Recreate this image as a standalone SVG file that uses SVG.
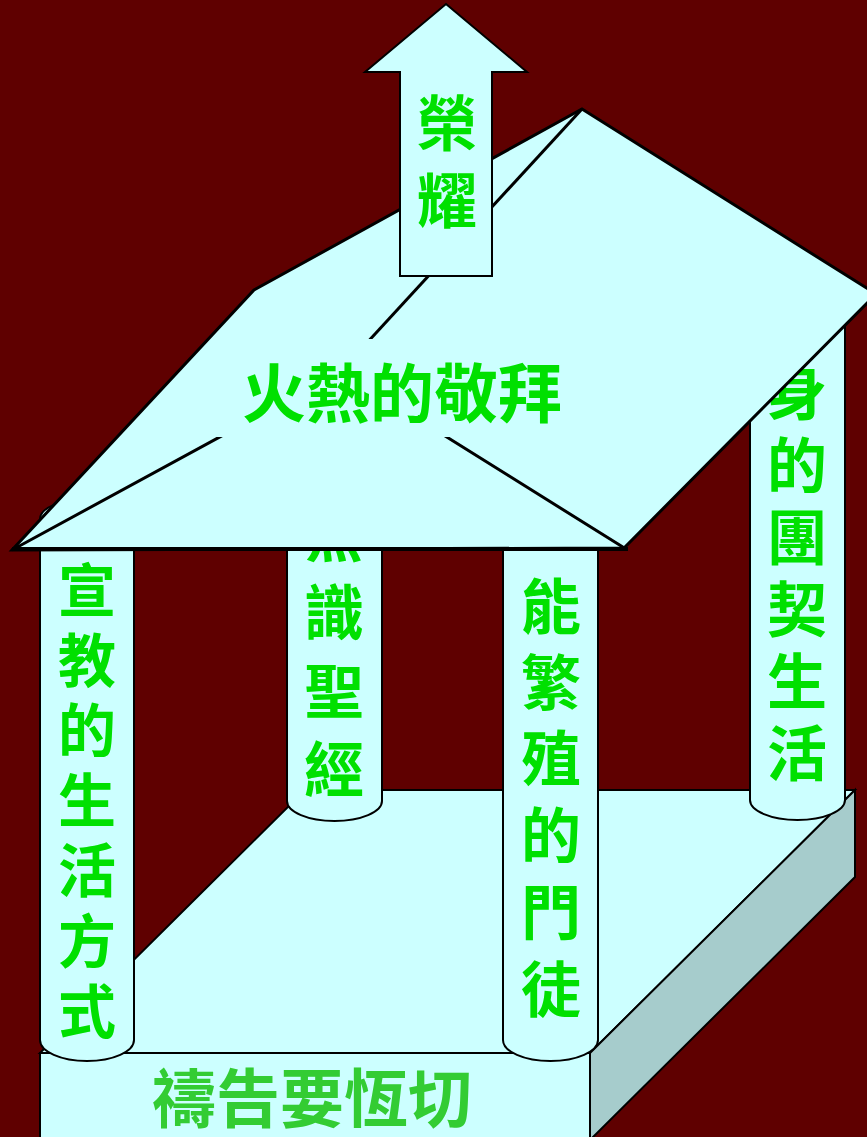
<svg xmlns="http://www.w3.org/2000/svg" width="867" height="1137" viewBox="0 0 867 1137">
<style>
.f{fill:#CCFFFF;stroke:#000;stroke-width:2;stroke-linejoin:miter}
.side{fill:#A6CCCC;stroke:#000;stroke-width:2}
.ln{fill:none;stroke:#000;stroke-width:3}
.t{font-family:"Noto Sans CJK TC","Noto Sans CJK SC",sans-serif;font-weight:bold;fill:#00E000;text-anchor:middle}
.tb{font-family:"Noto Sans CJK TC","Noto Sans CJK SC",sans-serif;font-weight:bold;fill:#33CC33;text-anchor:middle}
</style>
<rect x="0" y="0" width="867" height="1137" fill="#5F0000"/>
<g id="base">
<polygon class="f" points="40,1053 305,790 855,790 590,1053"/>
<polygon class="side" points="590,1053 855,790 855,877 590,1140"/>
<rect class="f" x="40" y="1053" width="550" height="90"/>
<text class="tb" x="312" y="1122" font-size="64">禱告要恆切</text>
</g>
<g id="pillar2">
<path class="f" d="M287,530 L287,801 A47.5,20 0 0 0 382,801 L382,530"/>
<text class="t" font-size="60"><tspan x="334" y="557">熟</tspan><tspan x="334" y="635">識</tspan><tspan x="334" y="714">聖</tspan><tspan x="334" y="792">經</tspan></text>
</g>
<g id="pillar4">
<path class="f" d="M750,310 L750,800 A47.5,20 0 0 0 845,800 L845,310"/>
<text class="t" font-size="60"><tspan x="797" y="415">身</tspan><tspan x="797" y="488">的</tspan><tspan x="797" y="560">團</tspan><tspan x="797" y="632">契</tspan><tspan x="797" y="704">生</tspan><tspan x="797" y="776">活</tspan></text>
</g>
<g id="pillar1">
<path class="f" d="M40,519 L40,1040 A47,21 0 0 0 134,1040 L134,519"/>
<ellipse class="f" cx="87" cy="519" rx="47" ry="20"/>
<text class="t" font-size="58"><tspan x="87" y="612">宣</tspan><tspan x="87" y="682">教</tspan><tspan x="87" y="752">的</tspan><tspan x="87" y="822">生</tspan><tspan x="87" y="892">活</tspan><tspan x="87" y="963">方</tspan><tspan x="87" y="1033">式</tspan></text>
</g>
<g id="pillar3">
<path class="f" d="M503,530 L503,1040 A47.5,21 0 0 0 598,1040 L598,530"/>
<text class="t" font-size="60"><tspan x="551" y="629">能</tspan><tspan x="551" y="705">繁</tspan><tspan x="551" y="781">殖</tspan><tspan x="551" y="858">的</tspan><tspan x="551" y="935">門</tspan><tspan x="551" y="1012">徒</tspan></text>
</g>
<g id="roof">
<polygon points="582,109 876,294 624,548 12,550 254,290" fill="#CCFFFF" stroke="#000" stroke-width="3" stroke-linejoin="miter"/>
<line class="ln" x1="582" y1="109" x2="341" y2="371"/>
<polyline class="ln" points="12,550 341,371 626,549"/>
<line x1="12" y1="549" x2="628" y2="549" stroke="#000" stroke-width="4"/>
<rect x="215" y="339" width="375" height="98" fill="#CCFFFF"/>
<text class="t" x="402" y="417" font-size="64">火熱的敬拜</text>
</g>
<g id="arrow">
<polygon class="f" points="446,4 527,72 492,72 492,276 400,276 400,72 365,72"/>
<text class="t" font-size="60"><tspan x="447" y="146">榮</tspan><tspan x="447" y="223">耀</tspan></text>
</g>
</svg>
